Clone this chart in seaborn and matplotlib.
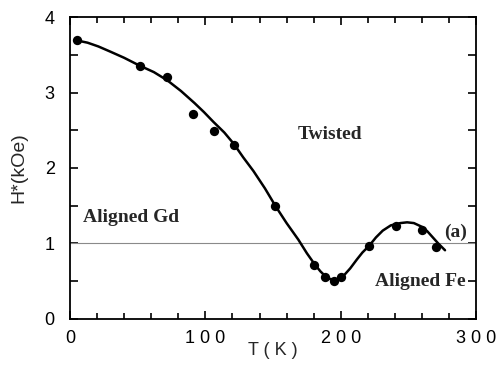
"""
H*(T) phase diagram: twisted / aligned Gd / aligned Fe
"""

import numpy as np
import pandas as pd
import matplotlib
matplotlib.use('Agg')
import matplotlib.pyplot as plt
import seaborn as sns

# measured points
temp_pts = [5, 51.5, 71.7, 91, 106.4, 121.4, 151.5, 180.5, 188.4, 195.3, 200.5, 220.7, 240.6, 260.1, 270.4]
h_pts = [3.70, 3.35, 3.21, 2.72, 2.49, 2.31, 1.49, 0.72, 0.55, 0.50, 0.55, 0.97, 1.23, 1.18, 0.95]

# guide-to-the-eye curve
temp_curve = [5, 13, 21, 30, 40, 51, 62, 72, 82, 92, 99, 106, 114, 121, 128, 135.5, 144,
              152, 160, 168.7, 175, 180.5, 185, 189, 192, 195, 198, 202, 207, 212, 216,
              221, 226, 231, 237, 244, 249, 254, 260, 264, 268, 272, 277]
h_curve = [3.69, 3.66, 3.61, 3.54, 3.46, 3.36, 3.27, 3.16, 3.02, 2.86, 2.74, 2.61, 2.47,
           2.32, 2.14, 1.96, 1.73, 1.49, 1.27, 1.05, 0.87, 0.73, 0.63, 0.56, 0.53, 0.52,
           0.53, 0.57, 0.67, 0.79, 0.88, 0.97, 1.08, 1.17, 1.24, 1.27, 1.28, 1.27, 1.22,
           1.16, 1.08, 1.00, 0.91]

xtick_vals = [0, 100, 200, 300]
xtick_labels = ['0', '1 0 0', '2 0 0', '3 0 0']
ytick_vals = [0, 1, 2, 3, 4]

sns.set_style('ticks')
plt.rcParams['font.family'] = ['Liberation Sans', 'DejaVu Sans']

fig = plt.figure(figsize=(4.96, 3.70), dpi=100)
ax = fig.add_axes([0.141, 0.138, 0.819, 0.816])

df_pts = pd.DataFrame({'T': temp_pts, 'H': h_pts})
df_curve = pd.DataFrame({'T': temp_curve, 'H': h_curve})

ax.axhline(1.0, color='#8a8a8a', lw=0.8, zorder=1)
sns.lineplot(data=df_curve, x='T', y='H', color='black', lw=1.8, ax=ax, zorder=2)
sns.scatterplot(data=df_pts, x='T', y='H', color='black', s=45, edgecolor='black',
                linewidth=0, ax=ax, zorder=3)

ax.set_xlim(0, 300)
ax.set_ylim(0, 4)
ax.set_xticks(xtick_vals)
ax.set_xticklabels(xtick_labels)
ax.set_yticks(ytick_vals)
ax.set_xticks(np.arange(0, 301, 20), minor=True)
ax.set_yticks(np.arange(0, 4.01, 0.5), minor=True)
ax.tick_params(which='both', direction='in', top=True, right=True, width=1.2, colors='black')
ax.tick_params(which='major', length=6, labelsize=13)
ax.tick_params(axis='x', which='major', pad=8)
ax.tick_params(axis='y', which='major', pad=11)
ax.tick_params(which='minor', length=4)
ax.tick_params(axis='y', which='minor', length=6)
for s in ax.spines.values():
    s.set_linewidth(1.3)
    s.set_color('black')

ax.set_xlabel('T ( K )', fontsize=13)
ax.set_ylabel('H*(kOe)', fontsize=14)
ax.xaxis.set_label_coords(0.5, -0.078)
ax.yaxis.set_label_coords(-0.105, 0.5)

serif = dict(family=['Liberation Serif', 'DejaVu Serif'], fontweight='bold', fontsize=14)
ax.text(192, 2.44, 'Twisted', ha='center', va='center', **serif)
ax.text(10, 1.34, 'Aligned Gd', ha='left', va='center', **serif)
ax.text(292, 0.49, 'Aligned Fe', ha='right', va='center', **serif)
ax.text(284.5, 1.15, '(a)', ha='center', va='center', **serif)

fig.savefig('out.png', dpi=100)
